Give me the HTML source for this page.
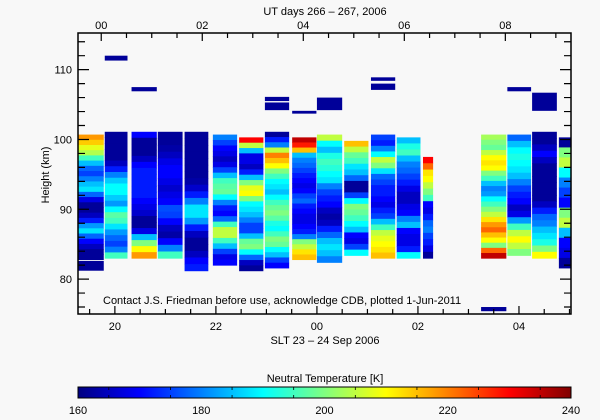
<!DOCTYPE html>
<html><head><meta charset="utf-8"><style>
body{margin:0;background:#f8f8f8;}
svg{display:block;font-family:"Liberation Sans",sans-serif;}
text{font-size:11px;fill:#000;}
</style></head><body>
<svg id="chart" width="600" height="420" viewBox="0 0 600 420">
<rect x="0" y="0" width="600" height="420" fill="#f8f8f8"/>
<g id="cells"></g>
<g id="axes"></g>
<text x="325" y="15" text-anchor="middle">UT days 266 – 267, 2006</text>
<text x="325" y="344" text-anchor="middle">SLT 23 – 24 Sep 2006</text>
<text transform="translate(49,175) rotate(-90)" text-anchor="middle">Height (km)</text>
<text x="103" y="304">Contact J.S. Friedman before use, acknowledge CDB, plotted 1-Jun-2011</text>
<text x="325" y="382" text-anchor="middle" font-size="12">Neutral Temperature [K]</text>
<defs><linearGradient id="jet" x1="0" x2="1" y1="0" y2="0">
<stop offset="0" stop-color="#000080"/><stop offset="0.125" stop-color="#0000ff"/><stop offset="0.25" stop-color="#0080ff"/><stop offset="0.375" stop-color="#00ffff"/><stop offset="0.5" stop-color="#80ff80"/><stop offset="0.625" stop-color="#ffff00"/><stop offset="0.75" stop-color="#ff8000"/><stop offset="0.875" stop-color="#ff0000"/><stop offset="1" stop-color="#800000"/></linearGradient></defs>
<rect x="78" y="387" width="493" height="11" fill="url(#jet)" stroke="#000" stroke-width="1"/>
<g id="cbticks"></g>
</svg>
<script>
const colStart=[19.27,19.8,20.33,20.85,21.38,21.94,22.46,22.97,23.51,24.0,24.54,25.07,25.58,26.1,27.25,27.77,28.26,28.79];
const colEnd=[19.78,20.25,20.83,21.34,21.85,22.42,22.94,23.45,23.99,24.5,25.02,25.55,26.05,26.3,27.75,28.24,28.75,29.1];
const colTop=[100.7,101.1,101.1,101.1,101.1,100.7,100.3,101.1,100.3,100.7,99.8,100.7,100.3,97.5,100.7,100.7,101.1,100.3];
const colBottom=[82.8,83.0,83.0,83.0,81.2,82.0,81.2,81.6,82.8,82.4,83.4,83.0,83.0,83.0,83.0,83.4,83.0,81.6];
const colValues=[
[218,214,208,204,195,185,178,175,180,185,188,178,168,162,162,165,172,182,188,178,170,165,162,162],
[162,162,162,162,162,165,172,180,186,190,190,186,182,190,197,195,188,182,178,175,180,195],
[170,162,162,162,165,170,172,172,172,172,172,170,168,166,162,162,168,185,200,210,218],
[162,162,163,165,168,170,170,168,166,168,170,176,175,170,165,163,170,180,195],
[162,162,162,162,162,162,162,163,166,172,180,188,188,182,172,165,162,162,165,170,172],
[180,175,170,168,165,168,175,185,195,197,198,190,180,172,170,178,195,205,205,195,185,175,168,170],
[230,205,185,168,168,165,172,185,200,208,210,200,190,188,185,180,175,175,185,198,200,190,178,165,162],
[162,172,180,205,220,215,210,200,195,190,188,185,190,195,198,200,197,192,190,195,200,198,190,185,175,170],
[235,228,215,185,180,178,175,172,170,168,170,175,178,172,170,168,168,170,172,180,200,205,212,215],
[205,190,185,192,195,193,190,188,180,175,172,170,165,163,165,172,178,185,188,185,180],
[215,205,198,195,188,185,178,162,162,175,190,200,198,195,190,185,170,168,175,190],
[175,172,180,190,205,200,188,178,175,172,172,170,168,172,175,185,195,205,208,210,212,215],
[185,192,195,185,180,178,175,172,168,165,165,168,170,180,185,170,168,168,172,190],
[230,222,212,210,205,200,195,170,168,172,178,180,175,172,168,162],
[203,200,198,205,210,212,210,200,195,185,180,182,190,195,200,205,212,218,222,215,210,200,222,235],
[178,185,190,192,190,188,185,180,175,172,170,165,168,182,195,205,210,205,200],
[162,162,165,170,165,162,162,162,162,162,162,165,172,178,180,185,188,192,200,210],
[162,200,205,190,180,175,170,200,205,185,170,168,162]
];
const blobStart=[19.27,19.8,20.33,22.97,22.97,23.51,24.0,25.07,25.07,27.77,28.26,27.25];
const blobEnd=[19.78,20.25,20.83,23.45,23.45,23.99,24.5,25.55,25.55,28.24,28.75,27.75];
const blobTop=[82.6,112.0,107.5,106.1,105.3,104.1,106.0,108.9,108.0,107.5,106.7,76.0];
const blobBottom=[81.2,111.3,106.9,105.5,104.2,103.7,104.2,108.4,107.1,106.9,104.1,75.4];
const blobValues=[162,162,162,162,162,162,162,162,162,162,162,162];
const xTicksBottom=[20,22,24,26,28];
const xTickLabelsBottom=["20","22","00","02","04"];
const xTicksTop=[20.0,22.0,24.0,26.0,28.0];
const xTickLabelsTop=["00","02","04","06","08"];
const yTicks=[80,90,100,110];
const yTickLabels=["80","90","100","110"];
const cbTicks=[160,180,200,220,240];
const cbTickLabels=["160","180","200","220","240"];

const X0=78,X1=571,Y0=33,Y1=314,H0=19.27,H1=29.03,K0=75,K1=115.25;
const xs=h=>X0+(h-H0)/(H1-H0)*(X1-X0);
const ys=k=>Y1-(k-K0)/(K1-K0)*(Y1-Y0);
const topShift=0.27;
const stops=[[0,0,128],[0,0,255],[0,128,255],[0,255,255],[128,255,128],[255,255,0],[255,128,0],[255,0,0],[128,0,0]];
function color(v){let t=Math.max(0,Math.min(1,(v-160)/80))*8;let i=Math.min(7,Math.floor(t)),f=t-i;const a=stops[i],b=stops[i+1];
return 'rgb('+a.map((c,j)=>Math.round(c+(b[j]-c)*f)).join(',')+')';}
const NS='http://www.w3.org/2000/svg';
function mk(tag,attrs,parent){const e=document.createElementNS(NS,tag);for(const k in attrs)e.setAttribute(k,attrs[k]);parent.appendChild(e);return e;}
const cells=document.getElementById('cells');
colValues.forEach((vals,c)=>{
  const n=vals.length,top=colTop[c],bot=colBottom[c],dk=(top-bot)/n;
  const xa=xs(colStart[c]),xb=Math.min(xs(colEnd[c]),X1);
  vals.forEach((v,r)=>{
    const ka=top-r*dk,kb=top-(r+1)*dk;
    const e=mk('rect',{x:xa,y:ys(ka),width:xb-xa,height:ys(kb)-ys(ka)+0.5,fill:color(v)},cells);
    
    
  });
});
blobValues.forEach((v,i)=>{
  const xa=xs(blobStart[i]),xb=xs(blobEnd[i]);
  const e=mk('rect',{x:xa,y:ys(blobTop[i]),width:xb-xa,height:ys(blobBottom[i])-ys(blobTop[i]),fill:color(v)},cells);
  
  
});
const ax=document.getElementById('axes');
const frame=mk('rect',{x:X0,y:Y0,width:X1-X0,height:Y1-Y0,fill:'none',stroke:'#000','stroke-width':1.5},ax);


let path='';
for(let h=19.5;h<=29.01;h+=0.5){const x=xs(h);const L=(Math.abs(h/2-Math.round(h/2))<0.01)?8:5;path+=`M${x},${Y1}v${-L}`;}
for(let h=19.5;h<=29.01;h+=0.5){const x=xs(h-topShift);if(x<=X0+1)continue;const L=(Math.abs(h/2-Math.round(h/2))<0.01)?8:5;path+=`M${x},${Y0}v${L}`;}
for(let k=76;k<=114;k+=2){const y=ys(k);const L=(k%10==0)?11:7;path+=`M${X0},${y}h${L}M${X1},${y}h${-L}`;}
const tp=mk('path',{d:path,stroke:'#000','stroke-width':1.2,fill:'none'},ax);


xTicksBottom.forEach((h,i)=>{const t=mk('text',{x:xs(h),y:330,'text-anchor':'middle'},ax);t.textContent=xTickLabelsBottom[i];

});
xTicksTop.forEach((h,i)=>{const t=mk('text',{x:xs(h-topShift),y:29,'text-anchor':'middle'},ax);t.textContent=xTickLabelsTop[i];

});
yTicks.forEach((k,i)=>{const t=mk('text',{x:72,y:ys(k)+4,'text-anchor':'end'},ax);t.textContent=yTickLabels[i];

});
const cb=document.getElementById('cbticks');
let cp='';
cbTicks.forEach((v,i)=>{const x=78+(v-160)/80*493;
const t=mk('text',{x:x,y:414,'text-anchor':'middle'},cb);t.textContent=cbTickLabels[i];

});
for(let v=165;v<240;v+=10){const x=78+(v-160)/80*493;cp+=`M${x},387v3M${x},398v-3`;}
const cbp=mk('path',{d:cp,stroke:'#000','stroke-width':0.8},cb);


</script>
</body></html>
